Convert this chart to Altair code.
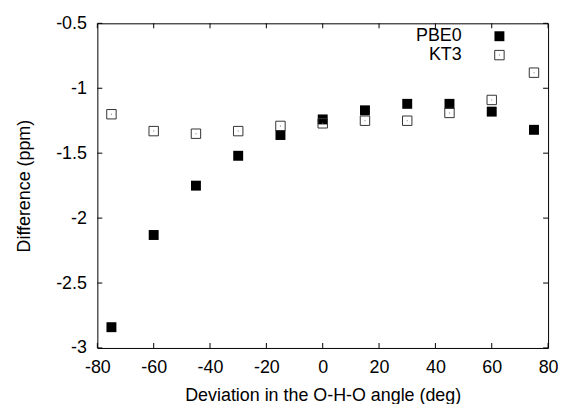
import altair as alt
import pandas as pd

angles = [-75, -60, -45, -30, -15, 0, 15, 30, 45, 60, 75]
pbe0 = [-2.84, -2.13, -1.75, -1.52, -1.36, -1.24, -1.17, -1.12, -1.12, -1.18, -1.32]
kt3 = [-1.20, -1.33, -1.35, -1.33, -1.29, -1.27, -1.25, -1.25, -1.19, -1.09, -0.88]
x_ticks = [-80, -60, -40, -20, 0, 20, 40, 60, 80]
y_ticks = [-3, -2.5, -2, -1.5, -1, -0.5]
series_names = ["PBE0", "KT3"]

W, H = 454, 327
FONT = "Liberation Sans"
FS = 18

df_p = pd.DataFrame({"x": angles, "y": pbe0})
df_k = pd.DataFrame({"x": angles, "y": kt3})
df_xt = pd.DataFrame({"x": x_ticks})
df_yt = pd.DataFrame({"y": y_ticks})

xs = alt.Scale(domain=[-80, 80], nice=False, zero=False)
ys = alt.Scale(domain=[-3, -0.5], nice=False, zero=False)

common = dict(labelExpr="'' + datum.value", ticks=False, grid=False, domain=False,
              labelFlush=False, labelOverlap=False,
              labelFont=FONT, labelFontSize=FS, labelColor="black",
              titleFont=FONT, titleFontSize=FS, titleColor="black",
              titleFontWeight="normal")
x_axis = alt.Axis(values=x_ticks, title="Deviation in the O-H-O angle (deg)",
                  labelPadding=11, titlePadding=10, **common)
y_axis = alt.Axis(values=y_ticks, title="Difference (ppm)",
                  labelPadding=11, titlePadding=22, **common)

X = alt.X("x:Q", scale=xs, axis=x_axis)
Y = alt.Y("y:Q", scale=ys, axis=y_axis)

filled = alt.Chart(df_p).mark_point(shape="square", filled=True, size=100,
                                    color="black", opacity=1).encode(x=X, y=Y)
open_sq = alt.Chart(df_k).mark_point(shape="square", filled=False, size=90,
                                     stroke="#333333", strokeWidth=1, opacity=1).encode(x=X, y=Y)
open_dot = alt.Chart(df_k).mark_point(shape="square", filled=True, size=1,
                                      color="#777777", opacity=1).encode(x=X, y=Y)

tick_len = 5
bt = alt.Chart(df_xt).mark_rule(color="black", strokeWidth=1).encode(
    x=X, y=alt.value(H), y2=alt.value(H - tick_len))
tt = alt.Chart(df_xt).mark_rule(color="black", strokeWidth=1).encode(
    x=X, y=alt.value(0), y2=alt.value(tick_len))
lt = alt.Chart(df_yt).mark_rule(color="black", strokeWidth=1).encode(
    y=Y, x=alt.value(0), x2=alt.value(tick_len))
rt = alt.Chart(df_yt).mark_rule(color="black", strokeWidth=1).encode(
    y=Y, x=alt.value(W), x2=alt.value(W - tick_len))

# legend (gnuplot style: label then symbol)
leg1_t = alt.Chart(pd.DataFrame({"t": [series_names[0]]})).mark_text(
    align="right", baseline="middle", font=FONT, fontSize=FS, color="black").encode(
    text="t:N", x=alt.value(367), y=alt.value(13))
leg2_t = alt.Chart(pd.DataFrame({"t": [series_names[1]]})).mark_text(
    align="right", baseline="middle", font=FONT, fontSize=FS, color="black").encode(
    text="t:N", x=alt.value(367), y=alt.value(32))
leg1_s = alt.Chart(pd.DataFrame({"t": [series_names[0]]})).mark_point(
    shape="square", filled=True, size=100, color="black", opacity=1).encode(
    x=alt.value(405), y=alt.value(13))
leg2_s = alt.Chart(pd.DataFrame({"t": [series_names[1]]})).mark_point(
    shape="square", filled=False, size=90, stroke="#333333", strokeWidth=1, opacity=1).encode(
    x=alt.value(405), y=alt.value(32))
leg2_d = alt.Chart(pd.DataFrame({"t": [series_names[1]]})).mark_point(
    shape="square", filled=True, size=1, color="#777777", opacity=1).encode(
    x=alt.value(405), y=alt.value(32))

chart = alt.layer(filled, open_sq, open_dot, bt, tt, lt, rt,
                  leg1_t, leg2_t, leg1_s, leg2_s, leg2_d).properties(
    width=W, height=H,
    background="white",
    autosize=alt.AutoSizeParams(type="none"),
    padding={"left": 90, "top": 14, "right": 10, "bottom": 55},
).configure_view(
    stroke="black", strokeWidth=1
)

chart.save("out.html", embed_options={"renderer": "svg", "actions": False})
